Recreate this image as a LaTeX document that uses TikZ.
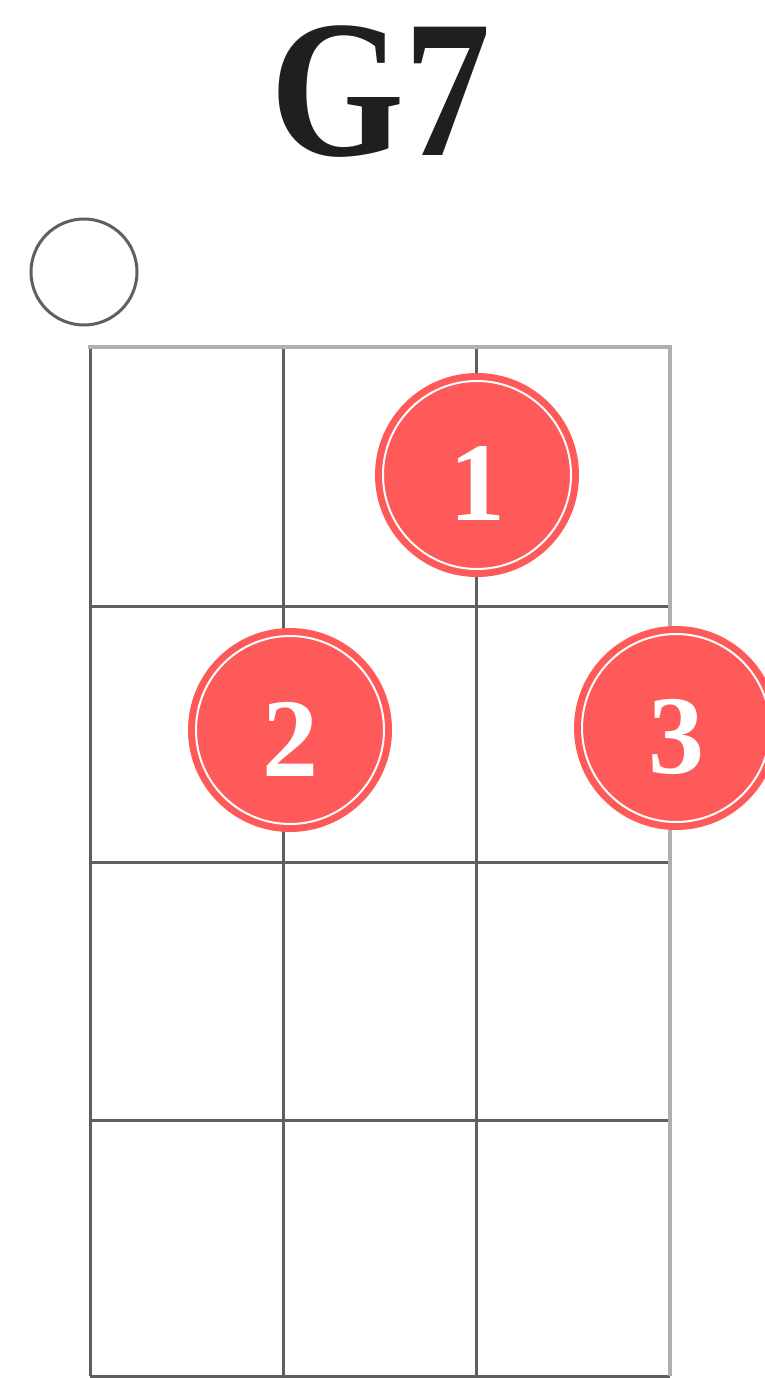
\documentclass[tikz,border=0pt]{standalone}
\usepackage{fontspec}
\setmainfont{Liberation Serif}
\definecolor{dotred}{RGB}{255,90,90}
\definecolor{gridgray}{RGB}{95,95,95}
\definecolor{edgegray}{RGB}{175,175,175}
\tikzset{
  gridline/.style={line width=3pt, draw=gridgray},
  edgeline/.style={line width=4pt, draw=edgegray},
  finger/.style={circle, fill=dotred, minimum size=204pt, inner sep=0pt},
  fingernum/.style={text=white, inner sep=0pt, font=\fontsize{112}{112}\selectfont\bfseries},
  fingerring/.style={draw=white, line width=2pt},
  openstring/.style={circle, draw=gridgray, line width=3pt, minimum size=106pt, inner sep=0pt},
  titletext/.style={font=\fontsize{196}{196}\selectfont\bfseries, text=black!88, xscale=0.88}
}
\begin{document}
\begin{tikzpicture}[x=1pt,y=-1pt]
\useasboundingbox (0,0) rectangle (765,1378);
% grid
\foreach \x in {283,476} \draw[gridline] (\x,347) -- (\x,1376);
\foreach \y in {606,862,1120,1376} \draw[gridline] (90,\y) -- (670,\y);
\draw[gridline] (90,347) -- (90,1376);
\draw[edgeline] (88,347) -- (672,347);
\draw[edgeline] (670,347) -- (670,1376);
% title
\node[titletext] (title) at (381,92) {G7};
% open string
\node[openstring] (open) at (84,272) {};
% fingers
\node[finger] (f1) at (477,475) {};
\node[finger] (f2) at (290,730) {};
\node[finger] (f3) at (676,728) {};
\foreach \n in {f1,f2,f3} \draw[fingerring] (\n.center) circle (94pt);
\node[fingernum] (n1) at ([yshift=-9pt]f1.center) {1};
\node[fingernum] (n2) at ([yshift=-9pt]f2.center) {2};
\node[fingernum] (n3) at ([yshift=-9pt]f3.center) {3};
\end{tikzpicture}
\end{document}
